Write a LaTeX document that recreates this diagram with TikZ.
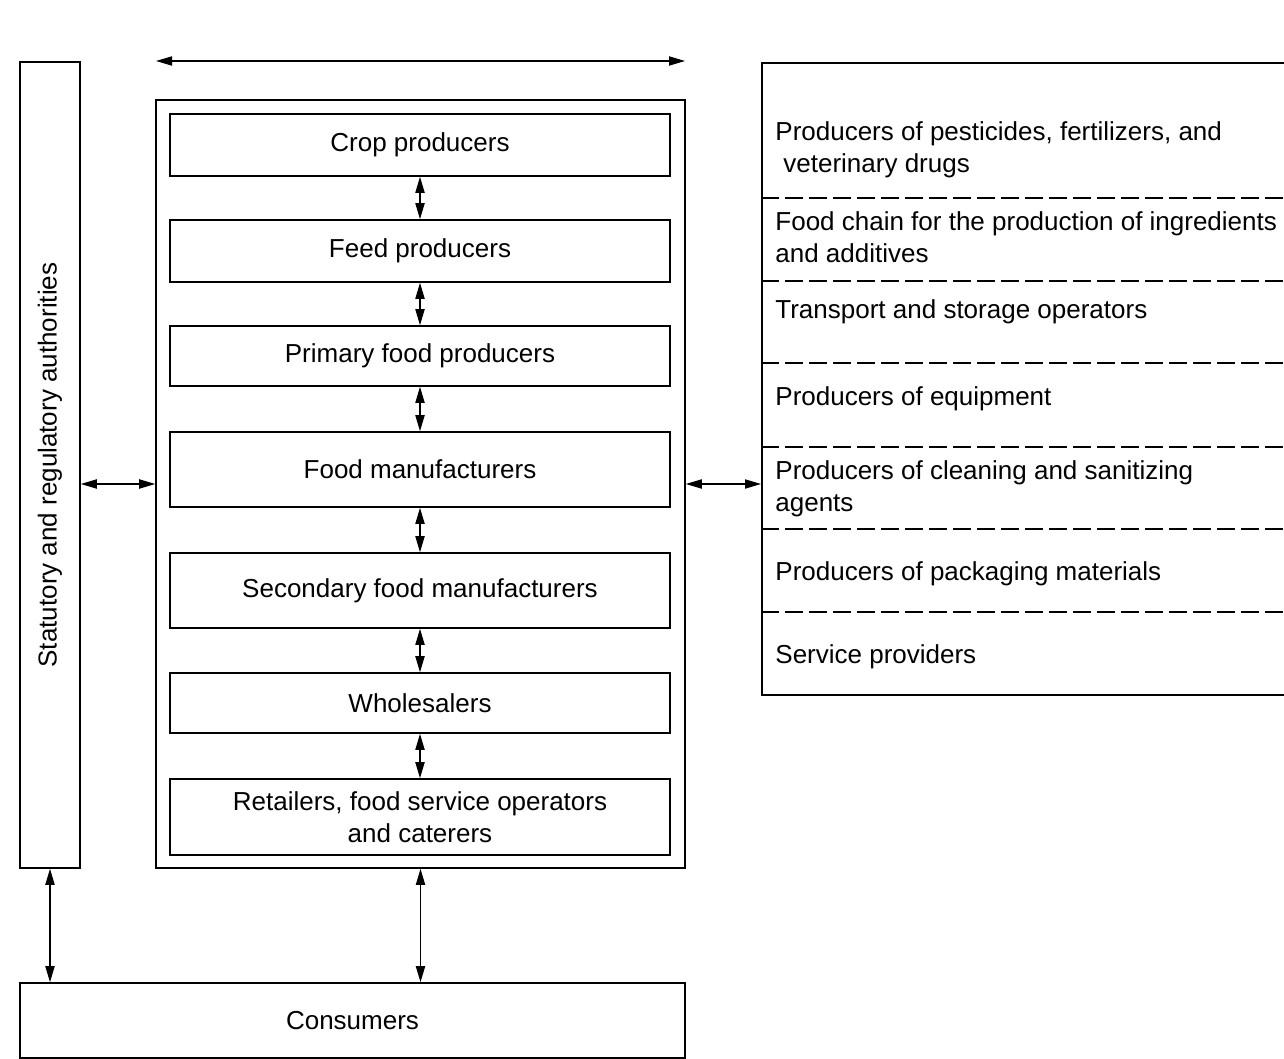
\documentclass[tikz,border=0pt]{standalone}
\usepackage{fontspec}
\setmainfont{Liberation Sans}
\usepackage{tikz}
\usetikzlibrary{arrows.meta}

\begin{document}
\begin{tikzpicture}[x=0.5pt,y=-0.5pt,font=\fontsize{13}{16}\selectfont]
		\tikzstyle{Box}=[draw,line width=0.8pt,inner sep=0pt]
		\tikzstyle{Stage}=[Box,minimum width=250pt]
		\tikzstyle{Item}=[anchor=north west,inner sep=0pt,align=left]
		\tikzstyle{Link}=[line width=0.6pt,{Triangle[length=8pt,width=4.6pt]}-{Triangle[length=8pt,width=4.6pt]}]
		\tikzstyle{Sep}=[line width=0.8pt,dash pattern=on 9pt off 3pt]
		\useasboundingbox (0,0) rectangle (1284,1059);
		% left column
		\node[Box,minimum width=30pt,minimum height=403pt] (auth) at (50,465)
			{\rotatebox{90}{Statutory and regulatory authorities}};
		% food chain
		\node[Box,minimum width=264.5pt,minimum height=384pt] (chain) at (420.5,484) {};
		\node[Stage,minimum height=31pt] (crop) at (420,145) {Crop producers};
		\node[Stage,minimum height=31pt] (feed) at (420,251) {Feed producers};
		\node[Stage,minimum height=30pt] (primary) at (420,356) {Primary food producers};
		\node[Stage,minimum height=37.5pt] (manuf) at (420,469.5) {Food manufacturers};
		\node[Stage,minimum height=37.5pt] (second) at (420,590.5) {Secondary food manufacturers};
		\node[Stage,minimum height=30pt] (whole) at (420,703) {Wholesalers};
		\node[Stage,minimum height=38pt,align=center] (retail) at (420,817)
			{Retailers, food service operators\\and caterers};
		\node[Box,minimum width=332.5pt,minimum height=37.5pt] (cons) at (352.5,1020.5) {Consumers};
		% suppliers
		\node[Box,anchor=north west,minimum width=300pt,minimum height=316pt] (supp) at (761,62) {};
		\foreach \y in {198,281,363,447,529,612}
			\draw[Sep] (supp.west |- 0,\y) -- ++(560,0);
		\node[Item] (pest) at (775,121) {Producers of pesticides, fertilizers, and\\\hspace*{4pt}veterinary drugs};
		\node[Item] (ingr) at (775,211) {Food chain for the production of ingredients\\and additives};
		\node[Item] (trans) at (775,299) {Transport and storage operators};
		\node[Item] (equip) at (775,386) {Producers of equipment};
		\node[Item] (clean) at (775,460) {Producers of cleaning and sanitizing\\agents};
		\node[Item] (pack) at (775,561) {Producers of packaging materials};
		\node[Item] (serv) at (775,644) {Service providers};
		% arrows
		\coordinate (topL) at (156,61);
		\coordinate (topR) at (685,61);
		\draw[Link] (topL) -- (topR);
		\foreach \a/\b in {crop/feed,feed/primary,primary/manuf,manuf/second,second/whole,whole/retail}
			\draw[Link] (\a) -- (\b);
		\draw[Link] (auth.east |- chain.west) -- (chain.west);
		\draw[Link] (chain.east) -- (chain.east -| supp.west);
		\draw[Link] (auth.south) -- (auth.south |- cons.north);
		\draw[Link] (chain.south) -- (chain.south |- cons.north);
	\end{tikzpicture}
\end{document}
